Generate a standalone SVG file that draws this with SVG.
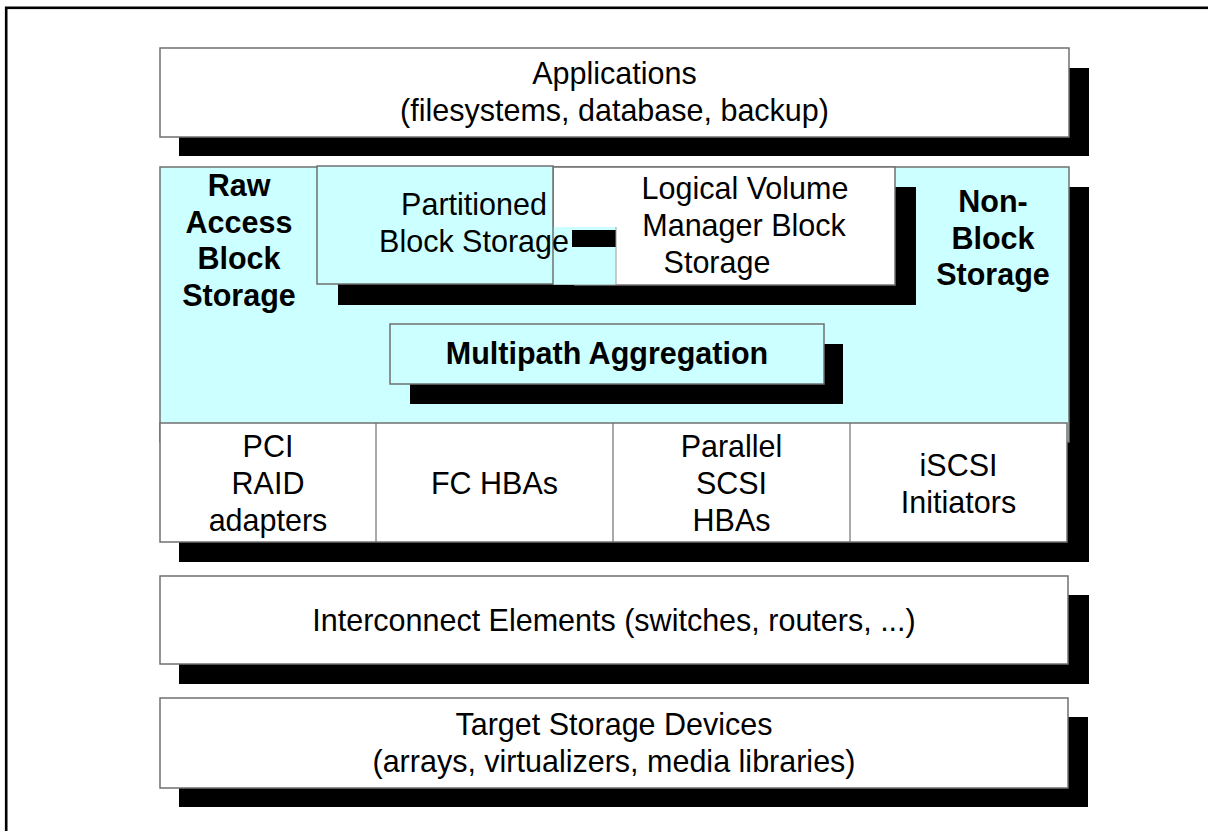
<svg xmlns="http://www.w3.org/2000/svg" width="1208" height="831" viewBox="0 0 1208 831">
<style>
.t{font-family:"Liberation Sans",Arial,sans-serif;font-size:30.5px;fill:#000;text-anchor:middle}
.b{font-weight:bold}
.box{stroke:#707070;stroke-width:1.5}
.w{fill:#fff}
.c{fill:#ccffff}
.sh{fill:#000}
</style>
<rect x="6.2" y="7.8" width="1400" height="1000" fill="#fff" stroke="#000" stroke-width="2.6"/>

<g id="applications">
<rect class="sh" x="179" y="68" width="910" height="88"/>
<rect class="box w" x="160" y="48" width="909" height="89"/>
<text class="t" x="614.5" y="84">Applications</text>
<text class="t" x="614.5" y="121">(filesystems, database, backup)</text>
</g>

<g id="host-panel">
<rect class="sh" x="179" y="187" width="910" height="375"/>
<rect class="box c" x="160" y="167" width="909" height="275"/>
</g>

<g id="raw-access">
<text class="t b" x="239" y="196">Raw</text>
<text class="t b" x="239" y="233">Access</text>
<text class="t b" x="239" y="269">Block</text>
<text class="t b" x="239" y="306">Storage</text>
</g>

<g id="non-block">
<text class="t b" x="993" y="212">Non-</text>
<text class="t b" x="993" y="249">Block</text>
<text class="t b" x="993" y="285">Storage</text>
</g>

<g id="lvm">
<rect class="sh" x="573" y="187" width="343" height="118"/>
<rect class="box w" x="553" y="167" width="342" height="118"/>
<text class="t" x="745" y="199">Logical Volume</text>
<text class="t" x="744" y="236">Manager Block</text>
<text class="t" x="717" y="273">Storage</text>
</g>

<g id="partitioned">
<polygon class="sh" points="338,186 553,186 553,285 574,285 574,305 338,305"/>
<rect class="box c" x="317" y="166" width="236" height="118"/>
<rect class="c" x="553.8" y="227" width="62" height="57.5"/>
<rect class="sh" x="572" y="230" width="44" height="17"/>
<line x1="616" y1="227" x2="616" y2="285" stroke="#9a9a9a" stroke-width="1"/>
<text class="t" x="474" y="215">Partitioned</text>
<text class="t" x="474" y="252">Block Storage</text>
</g>

<g id="multipath">
<rect class="sh" x="410" y="344" width="433" height="60"/>
<rect class="box c" x="390" y="324" width="434" height="60"/>
<text class="t b" x="607" y="364">Multipath Aggregation</text>
</g>

<g id="adapters">
<rect class="box w" x="160" y="423" width="907" height="119"/>
<line x1="376" y1="423" x2="376" y2="542" stroke="#707070" stroke-width="1.2"/>
<line x1="613" y1="423" x2="613" y2="542" stroke="#707070" stroke-width="1.2"/>
<line x1="850" y1="423" x2="850" y2="542" stroke="#707070" stroke-width="1.2"/>
</g>
<g id="pci-raid">
<text class="t" x="268" y="457">PCI</text>
<text class="t" x="268" y="494">RAID</text>
<text class="t" x="268" y="531">adapters</text>
</g>
<g id="fc-hbas">
<text class="t" x="494.5" y="494">FC HBAs</text>
</g>
<g id="parallel-scsi">
<text class="t" x="731.5" y="457">Parallel</text>
<text class="t" x="731.5" y="494">SCSI</text>
<text class="t" x="731.5" y="531">HBAs</text>
</g>
<g id="iscsi">
<text class="t" x="958.5" y="476">iSCSI</text>
<text class="t" x="958.5" y="513">Initiators</text>
</g>

<g id="interconnect">
<rect class="sh" x="179" y="595" width="910" height="89"/>
<rect class="box w" x="160" y="576" width="908" height="88"/>
<text class="t" x="614" y="631">Interconnect Elements (switches, routers, ...)</text>
</g>

<g id="targets">
<rect class="sh" x="179" y="717" width="909" height="90"/>
<rect class="box w" x="160" y="698" width="908" height="90"/>
<text class="t" x="614" y="735">Target Storage Devices</text>
<text class="t" x="614" y="772">(arrays, virtualizers, media libraries)</text>
</g>

<g id="connectors"></g>
</svg>
